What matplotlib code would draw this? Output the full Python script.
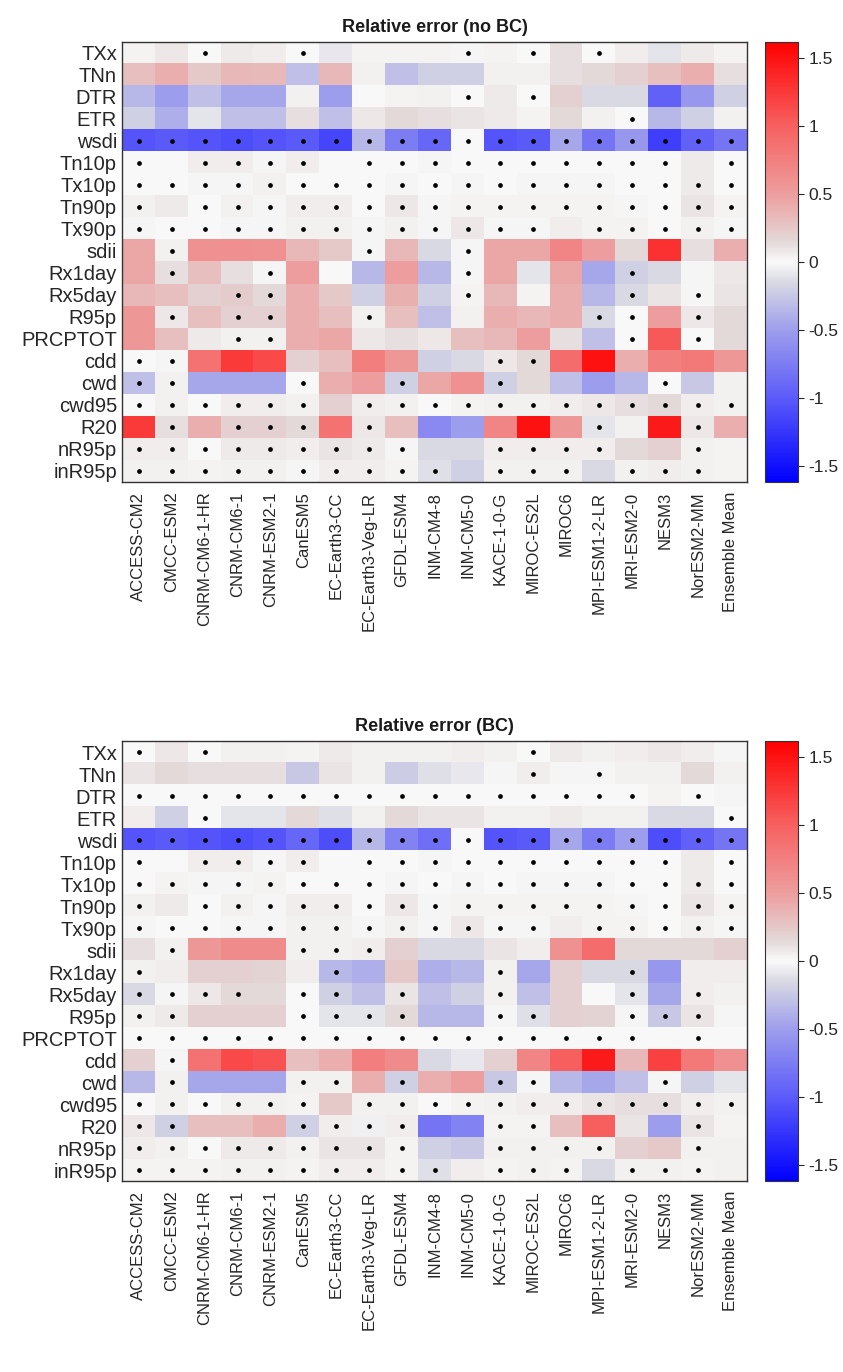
import numpy as np
import matplotlib.pyplot as plt
from matplotlib.colors import LinearSegmentedColormap

plt.rcParams['font.family'] = ['Liberation Sans', 'DejaVu Sans']
plt.rcParams['axes.unicode_minus'] = False

models = ["ACCESS-CM2", "CMCC-ESM2", "CNRM-CM6-1-HR", "CNRM-CM6-1", "CNRM-ESM2-1",
          "CanESM5", "EC-Earth3-CC", "EC-Earth3-Veg-LR", "GFDL-ESM4", "INM-CM4-8",
          "INM-CM5-0", "KACE-1-0-G", "MIROC-ES2L", "MIROC6", "MPI-ESM1-2-LR",
          "MRI-ESM2-0", "NESM3", "NorESM2-MM", "Ensemble Mean"]
indices = ["TXx", "TNn", "DTR", "ETR", "wsdi", "Tn10p", "Tx10p", "Tn90p", "Tx90p",
           "sdii", "Rx1day", "Rx5day", "R95p", "PRCPTOT", "cdd", "cwd", "cwd95",
           "R20", "nR95p", "inR95p"]

# relative error, no bias correction (rows = indices, cols = models)
err_nobc = [
    [0.03, 0.08, 0.0, 0.07, 0.06, 0.0, -0.08, 0.03, 0.03, 0.03, 0.02, 0.03, 0.0, 0.12, 0.0, 0.06, -0.1, 0.07, 0.03],
    [0.3, 0.4, 0.25, 0.35, 0.33, -0.3, 0.35, 0.05, -0.3, -0.2, -0.2, 0.05, 0.05, 0.12, 0.15, 0.2, 0.3, 0.4, 0.12],
    [-0.35, -0.5, -0.3, -0.45, -0.45, 0.05, -0.5, 0.0, 0.03, 0.05, 0.0, 0.07, 0.0, 0.2, -0.15, -0.15, -0.95, -0.55, -0.2],
    [-0.2, -0.4, -0.1, -0.3, -0.3, 0.12, -0.3, 0.08, 0.15, 0.12, 0.1, 0.07, 0.03, 0.15, 0.05, 0.0, -0.35, -0.2, 0.05],
    [-1.05, -1.0, -1.05, -1.1, -1.05, -1.0, -1.15, -0.35, -0.75, -0.9, 0.0, -1.05, -1.0, -0.45, -0.8, -0.55, -1.2, -0.95, -0.8],
    [0.0, 0.0, 0.06, 0.06, 0.02, 0.06, 0.0, 0.01, 0.0, 0.02, 0.0, 0.0, 0.01, 0.0, 0.0, 0.01, 0.0, 0.07, 0.01],
    [0.01, 0.01, 0.02, 0.02, 0.04, 0.01, 0.0, 0.0, 0.02, 0.0, 0.02, 0.01, 0.02, 0.02, 0.02, 0.01, 0.0, 0.07, 0.01],
    [0.05, 0.07, 0.0, 0.05, 0.02, 0.06, 0.06, 0.01, 0.08, 0.02, 0.03, 0.03, 0.03, 0.03, 0.03, 0.02, 0.01, 0.1, 0.03],
    [0.02, 0.01, 0.01, 0.02, 0.02, 0.05, 0.05, 0.02, 0.04, 0.02, 0.08, 0.02, 0.02, 0.06, 0.03, 0.03, 0.01, 0.04, 0.02],
    [0.45, 0.05, 0.6, 0.62, 0.6, 0.35, 0.25, 0.02, 0.35, -0.15, 0.02, 0.45, 0.45, 0.7, 0.5, 0.15, 1.3, 0.12, 0.4],
    [0.45, 0.12, 0.3, 0.12, 0.02, 0.5, 0.0, -0.35, 0.5, -0.35, 0.02, 0.45, -0.1, 0.45, -0.45, -0.2, -0.15, 0.02, 0.08],
    [0.35, 0.3, 0.2, 0.22, 0.15, 0.4, 0.25, -0.2, 0.38, -0.2, 0.03, 0.35, 0.03, 0.4, -0.35, -0.15, 0.1, 0.02, 0.1],
    [0.55, 0.08, 0.3, 0.2, 0.2, 0.4, 0.3, 0.05, 0.3, -0.3, 0.05, 0.4, 0.35, 0.4, -0.15, 0.0, 0.5, 0.08, 0.15],
    [0.55, 0.3, 0.07, 0.05, 0.05, 0.4, 0.45, 0.08, 0.12, 0.08, 0.3, 0.35, 0.5, 0.12, -0.3, 0.0, 1.05, 0.0, 0.15],
    [0.0, 0.02, 0.85, 1.25, 1.15, 0.2, 0.3, 0.75, 0.55, -0.2, -0.15, 0.08, 0.15, 0.9, 1.5, 0.4, 0.75, 0.8, 0.55],
    [-0.3, 0.05, -0.45, -0.45, -0.45, 0.0, 0.4, 0.5, -0.2, 0.45, 0.6, -0.2, 0.15, -0.3, -0.5, -0.35, 0.0, -0.25, 0.05],
    [0.0, 0.05, 0.0, 0.06, 0.06, 0.05, 0.2, 0.06, 0.04, 0.0, 0.03, 0.05, 0.05, 0.06, 0.08, 0.12, 0.15, 0.06, 0.04],
    [1.25, 0.12, 0.4, 0.2, 0.2, 0.15, 0.85, 0.08, 0.3, -0.65, -0.5, 0.7, 1.5, 0.55, -0.1, 0.05, 1.45, 0.08, 0.4],
    [0.06, 0.06, 0.0, 0.07, 0.07, 0.06, 0.1, 0.07, 0.02, -0.15, -0.15, 0.06, 0.06, 0.06, 0.06, 0.15, 0.2, 0.05, 0.03],
    [0.04, 0.04, 0.03, 0.05, 0.05, 0.02, 0.06, 0.06, 0.03, -0.12, -0.2, 0.05, 0.05, 0.04, -0.15, 0.04, 0.06, 0.04, 0.03],
]

# relative error, bias corrected
err_bc = [
    [0.0, 0.08, 0.0, 0.05, 0.05, 0.03, 0.07, 0.04, 0.05, 0.05, 0.06, 0.05, 0.0, 0.07, 0.04, 0.06, 0.08, 0.06, 0.02],
    [0.1, 0.15, 0.12, 0.12, 0.12, -0.25, 0.1, 0.05, -0.22, -0.12, -0.08, 0.02, 0.06, 0.02, 0.02, 0.05, 0.05, 0.15, 0.04],
    [0.0, 0.01, 0.0, 0.01, 0.01, 0.0, 0.01, 0.0, 0.01, 0.0, 0.01, 0.0, 0.01, 0.0, 0.01, 0.0, 0.03, 0.01, 0.02],
    [0.06, -0.2, 0.0, -0.1, -0.1, 0.15, -0.12, 0.05, 0.15, 0.1, 0.1, 0.04, 0.04, 0.07, 0.04, 0.05, -0.15, -0.15, 0.0],
    [-1.05, -1.0, -1.05, -1.1, -1.05, -0.9, -1.1, -0.35, -0.7, -0.85, 0.0, -1.05, -1.0, -0.45, -0.75, -0.5, -1.1, -0.95, -0.8],
    [0.0, 0.0, 0.06, 0.06, 0.02, 0.06, 0.0, 0.01, 0.0, 0.02, 0.0, 0.0, 0.01, 0.0, 0.0, 0.01, 0.0, 0.07, 0.01],
    [0.01, 0.03, 0.02, 0.02, 0.03, 0.01, 0.0, 0.0, 0.02, 0.0, 0.02, 0.01, 0.02, 0.02, 0.02, 0.01, 0.0, 0.07, 0.01],
    [0.05, 0.07, 0.0, 0.05, 0.02, 0.06, 0.06, 0.01, 0.08, 0.02, 0.03, 0.03, 0.03, 0.03, 0.03, 0.02, 0.01, 0.1, 0.03],
    [0.02, 0.01, 0.01, 0.02, 0.02, 0.05, 0.05, 0.02, 0.04, 0.02, 0.08, 0.02, 0.02, 0.06, 0.03, 0.03, 0.01, 0.04, 0.02],
    [0.12, 0.05, 0.55, 0.65, 0.65, 0.05, 0.05, 0.06, 0.2, -0.15, -0.15, 0.1, 0.06, 0.6, 0.9, 0.15, 0.15, 0.15, 0.2],
    [0.05, 0.06, 0.2, 0.2, 0.18, 0.06, -0.35, -0.4, 0.25, -0.4, -0.35, 0.04, -0.45, 0.2, -0.15, -0.15, -0.55, 0.06, 0.06],
    [-0.15, 0.02, 0.08, 0.15, 0.15, 0.0, -0.2, -0.3, 0.1, -0.3, -0.2, 0.04, -0.3, 0.2, 0.0, -0.1, -0.45, 0.06, 0.05],
    [0.05, 0.07, 0.2, 0.2, 0.2, 0.0, -0.1, -0.1, 0.15, -0.35, -0.35, 0.02, -0.12, 0.2, 0.18, 0.02, -0.25, 0.1, 0.02],
    [0.0, 0.01, 0.0, 0.0, 0.0, 0.0, 0.0, 0.0, 0.0, 0.0, 0.0, 0.0, 0.0, 0.0, 0.0, 0.0, 0.0, 0.0, 0.0],
    [0.2, 0.02, 0.85, 1.15, 1.1, 0.3, 0.4, 0.75, 0.65, -0.15, -0.08, 0.2, 0.7, 1.0, 1.45, 0.35, 1.2, 0.8, 0.6],
    [-0.35, 0.05, -0.45, -0.45, -0.45, 0.05, 0.05, 0.4, -0.2, 0.4, 0.5, -0.25, 0.02, -0.35, -0.45, -0.3, 0.02, -0.2, -0.1],
    [0.0, 0.05, 0.0, 0.05, 0.05, 0.03, 0.25, 0.05, 0.05, 0.0, 0.03, 0.05, 0.06, 0.06, 0.1, 0.12, 0.12, 0.06, 0.05],
    [0.08, -0.2, 0.3, 0.3, 0.4, -0.2, 0.06, -0.05, 0.06, -0.8, -0.7, 0.03, 0.03, 0.3, 1.0, 0.1, -0.5, 0.1, 0.03],
    [0.06, 0.05, 0.0, 0.07, 0.07, 0.04, 0.1, 0.1, 0.03, -0.2, -0.25, 0.05, 0.05, 0.04, 0.05, 0.2, 0.25, 0.04, 0.05],
    [0.03, 0.03, 0.03, 0.05, 0.04, 0.03, 0.06, 0.06, 0.03, -0.12, 0.06, 0.03, 0.04, 0.03, -0.15, 0.04, 0.05, 0.03, 0.05],
]

# dot marks (1 = dot drawn in the cell)
sig_nobc = [
    "0010010000101010000", "0000000000000000000", "0000000000101000000", "0000000000000001000",
    "1111111111111111111", "1011110111111111101", "1111111111111111111", "1011111111111111111",
    "1111111111111011111", "0100000100100000000", "0100100000100001000", "0001100000100001010",
    "0101100100000011010", "0001100000000001010", "1100000000011000000", "1100010010010000100",
    "1111110111111111111", "0101110100000010010", "1111111110011110010", "1111111111011101110",
]
sig_bc = [
    "1010000000001000000", "0000000000001010000", "1111111111111111010", "0010000000000000001",
    "1111111111111111111", "1011110111111111101", "1111111111111111111", "1011111111111111111",
    "1111111111111011111", "0100011100000000000", "1000001000010001000", "1111011010010001010",
    "1100011110011001110", "1111111111111111010", "0100000000000000000", "0100011010011000100",
    "1111110111111111111", "1100011110011000010", "1111111110011110010", "1111111111011101110",
]

vlim = 1.62
cbar_ticks = [-1.5, -1, -0.5, 0, 0.5, 1, 1.5]

# blue -> light grey/white -> red
nodes = [(-1.62, (0.0, 0.0, 1.0)), (-1.0, (0.36, 0.36, 0.98)), (-0.5, (0.62, 0.62, 0.93)),
         (-0.15, (0.85, 0.85, 0.89)), (0.0, (0.98, 0.98, 0.98)), (0.15, (0.89, 0.85, 0.85)),
         (0.5, (0.93, 0.62, 0.62)), (1.0, (0.97, 0.38, 0.38)), (1.62, (1.0, 0.0, 0.0))]
cmap = LinearSegmentedColormap.from_list(
    "bwr_grey", [((v + vlim) / (2 * vlim), c) for v, c in nodes])

txt = '#262626'
fig = plt.figure(figsize=(8.43, 13.72), dpi=100)


def panel(ax, cax, vals, sig, title):
    Z = np.array(vals)
    im = ax.imshow(Z, cmap=cmap, vmin=-vlim, vmax=vlim, aspect='auto',
                   interpolation='nearest')
    S = np.array([[c == '1' for c in s] for s in sig])
    r, c = np.nonzero(S)
    ax.plot(c, r, 'o', ms=2.4, color='k', ls='none')
    ax.set_xticks(range(len(models)))
    ax.set_xticklabels(models, rotation=90, fontsize=12, color=txt)
    ax.set_yticks(range(len(indices)))
    ax.set_yticklabels(indices, fontsize=14.5, color=txt)
    ax.tick_params(length=0, pad=4)
    ax.tick_params(axis='x', pad=7)
    for s in ax.spines.values():
        s.set_color('#333333')
        s.set_linewidth(1.0)
    ax.set_title(title, fontsize=13, fontweight='bold', color='#1a1a1a', pad=7)
    cb = fig.colorbar(im, cax=cax, ticks=cbar_ticks)
    cb.ax.set_yticklabels(['-1.5', '-1', '-0.5', '0', '0.5', '1', '1.5'])
    cb.ax.tick_params(labelsize=12.5, colors=txt, length=4, direction='out')
    cb.outline.set_edgecolor('#333333')
    cb.outline.set_linewidth(0.8)


ax1 = fig.add_axes([0.1453, 0.6487, 0.7408, 0.3207])
cax1 = fig.add_axes([0.9075, 0.6487, 0.0391, 0.3207])
ax2 = fig.add_axes([0.1453, 0.1392, 0.7408, 0.3207])
cax2 = fig.add_axes([0.9075, 0.1392, 0.0391, 0.3207])

panel(ax1, cax1, err_nobc, sig_nobc, "Relative error (no BC)")
panel(ax2, cax2, err_bc, sig_bc, "Relative error (BC)")

fig.savefig("out.png", dpi=100)
